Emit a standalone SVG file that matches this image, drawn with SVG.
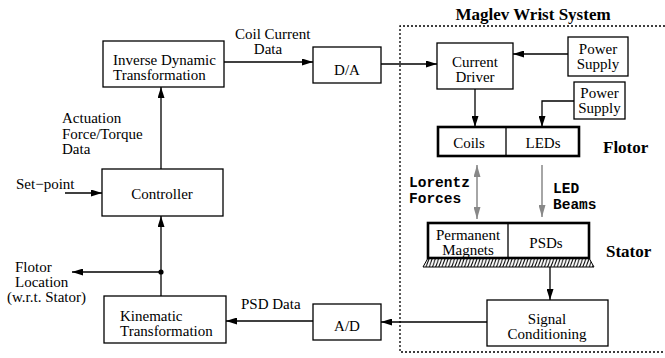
<svg xmlns="http://www.w3.org/2000/svg" width="665" height="358" viewBox="0 0 665 358">
  <defs>
    <style>
      .box { fill: #fff; stroke: #000; stroke-width: 1.3; }
      .thick { fill: #fff; stroke: #000; stroke-width: 2.6; }
      .wire { fill: none; stroke: #000; stroke-width: 1.3; }
      .gray { fill: none; stroke: #888; stroke-width: 1.5; }
      .lbl { font-family: "Liberation Serif", "Times New Roman", serif; font-size: 15px; fill: #000; }
      .mid { text-anchor: middle; }
      .bold { font-family: "Liberation Serif", "Times New Roman", serif; font-size: 17px; font-weight: bold; fill: #000; }
      .mono { font-family: "Liberation Mono", "Courier New", monospace; font-size: 14.5px; font-weight: bold; fill: #000; }
      .frame { fill: none; stroke: #000; stroke-width: 1.3; stroke-dasharray: 2 2; }
    </style>
    <marker id="arr" markerUnits="userSpaceOnUse" markerWidth="11" markerHeight="7" refX="11" refY="3.5" orient="auto">
      <path d="M0,0 L11,3.5 L0,7 z" fill="#000"/>
    </marker>
    <marker id="garr" markerUnits="userSpaceOnUse" markerWidth="12" markerHeight="7" refX="12" refY="3.5" orient="auto-start-reverse">
      <path d="M0,0 L12,3.5 L0,7 z" fill="#888"/>
    </marker>
    <pattern id="hatch" patternUnits="userSpaceOnUse" width="3.2" height="9">
      <path d="M-1,10 L3,-1 M2.2,10 L6.2,-1" stroke="#000" stroke-width="1"/>
    </pattern>
  </defs>

  <!-- system boundary -->
  <path class="frame" d="M665,26 H400 V352 H665"/>
  <text class="bold mid" x="533" y="20">Maglev Wrist System</text>

  <!-- connectors -->
  <g id="connectors">
    <line class="wire" x1="224" y1="62" x2="313" y2="62" marker-end="url(#arr)"/>
    <line class="wire" x1="381" y1="64" x2="437" y2="64" marker-end="url(#arr)"/>
    <line class="wire" x1="568" y1="54" x2="513" y2="54" marker-end="url(#arr)"/>
    <polyline class="wire" points="574,101 542,101 542,127" marker-end="url(#arr)"/>
    <line class="wire" x1="475" y1="89" x2="475" y2="127" marker-end="url(#arr)"/>
    <line class="gray" x1="477" y1="165" x2="477" y2="219" marker-start="url(#garr)" marker-end="url(#garr)"/>
    <line class="gray" x1="542" y1="165" x2="542" y2="217" marker-end="url(#garr)"/>
    <line class="wire" x1="550" y1="267" x2="550" y2="300" marker-end="url(#arr)"/>
    <line class="wire" x1="487" y1="322" x2="381" y2="322" marker-end="url(#arr)"/>
    <line class="wire" x1="313" y1="321" x2="226" y2="321" marker-end="url(#arr)"/>
    <line class="wire" x1="161" y1="296" x2="161" y2="216" marker-end="url(#arr)"/>
    <line class="wire" x1="161" y1="272" x2="72" y2="272" marker-end="url(#arr)"/>
    <circle cx="161" cy="272" r="2.6" fill="#000"/>
    <line class="wire" x1="161" y1="169" x2="161" y2="87" marker-end="url(#arr)"/>
    <line class="wire" x1="65" y1="193" x2="102" y2="193" marker-end="url(#arr)"/>
    <text class="lbl" x="235" y="39">Coil Current</text>
    <text class="lbl mid" x="268" y="54">Data</text>
    <text class="lbl" x="62" y="123">Actuation</text>
    <text class="lbl" x="62" y="139">Force/Torque</text>
    <text class="lbl" x="62" y="154">Data</text>
    <text class="lbl" x="16" y="189">Set−point</text>
    <text class="lbl" x="15" y="272">Flotor</text>
    <text class="lbl" x="15" y="287">Location</text>
    <text class="lbl" x="7" y="302">(w.r.t. Stator)</text>
    <text class="lbl" x="241" y="309">PSD Data</text>
    <text class="mono" x="409" y="187">Lorentz</text>
    <text class="mono" x="409" y="203">Forces</text>
    <text class="mono" x="553" y="193">LED</text>
    <text class="mono" x="553" y="209">Beams</text>
  </g>

  <g id="inverse-dynamic">
    <rect class="box" x="103" y="41" width="121" height="46"/>
    <text class="lbl" x="113" y="65">Inverse Dynamic</text>
    <text class="lbl" x="113" y="80">Transformation</text>
  </g>

  <g id="controller">
    <rect class="box" x="102" y="169" width="121" height="47"/>
    <text class="lbl mid" x="162" y="199">Controller</text>
  </g>

  <g id="kinematic">
    <rect class="box" x="104" y="296" width="122" height="47"/>
    <text class="lbl" x="120" y="321">Kinematic</text>
    <text class="lbl" x="120" y="336">Transformation</text>
  </g>

  <g id="da">
    <rect class="box" x="313" y="47" width="68" height="36"/>
    <text class="lbl mid" x="347" y="75">D/A</text>
  </g>

  <g id="ad">
    <rect class="box" x="313" y="304" width="68" height="36"/>
    <text class="lbl mid" x="347" y="331">A/D</text>
  </g>

  <g id="current-driver">
    <rect class="box" x="437" y="43" width="76" height="46"/>
    <text class="lbl mid" x="475" y="67">Current</text>
    <text class="lbl mid" x="475" y="82">Driver</text>
  </g>

  <g id="power-supply-1">
    <rect class="box" x="568" y="37" width="60" height="39"/>
    <text class="lbl mid" x="598" y="54">Power</text>
    <text class="lbl mid" x="598" y="69">Supply</text>
  </g>

  <g id="power-supply-2">
    <rect class="box" x="574" y="82" width="51" height="37"/>
    <text class="lbl mid" x="599.5" y="98">Power</text>
    <text class="lbl mid" x="599.5" y="113">Supply</text>
  </g>

  <g id="flotor">
    <rect class="thick" x="438" y="127" width="141" height="29"/>
    <line class="wire" x1="506" y1="127" x2="506" y2="156"/>
    <text class="lbl mid" x="469" y="148">Coils</text>
    <text class="lbl mid" x="543" y="148">LEDs</text>
    <text class="bold" x="603" y="153">Flotor</text>
  </g>

  <g id="stator">
    <path d="M428,258 H589 L594,267 H423 Z" fill="url(#hatch)" stroke="#000" stroke-width="1"/>
    <rect class="thick" x="428" y="223" width="161" height="35"/>
    <line class="wire" x1="508" y1="223" x2="508" y2="258"/>
    <text class="lbl mid" x="468" y="240">Permanent</text>
    <text class="lbl mid" x="468" y="255">Magnets</text>
    <text class="lbl mid" x="546" y="248">PSDs</text>
    <text class="bold" x="606" y="257">Stator</text>
  </g>

  <g id="signal-conditioning">
    <rect class="box" x="487" y="300" width="121" height="46"/>
    <text class="lbl mid" x="547" y="324">Signal</text>
    <text class="lbl mid" x="547" y="339">Conditioning</text>
  </g>
</svg>
